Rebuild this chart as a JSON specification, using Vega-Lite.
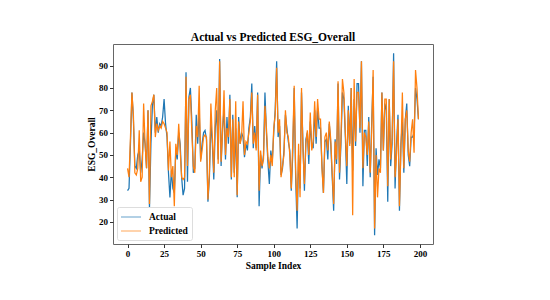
{
  "$schema": "https://vega.github.io/schema/vega-lite/v6.json",
  "width": 320,
  "height": 200,
  "autosize": {"type": "none"},
  "padding": {"left": 113, "top": 44, "right": 117, "bottom": 56},
  "background": "#ffffff",
  "title": {
    "text": "Actual vs Predicted ESG_Overall",
    "font": "Liberation Serif",
    "fontSize": 11.5,
    "fontWeight": "bold",
    "color": "#000000",
    "anchor": "middle",
    "offset": 1
  },
  "data": {
    "values": [
      {"i":0,"Actual":34,"Predicted":44},{"i":1,"Actual":35,"Predicted":40},{"i":2,"Actual":55,"Predicted":58},{"i":3,"Actual":78,"Predicted":78},{"i":4,"Actual":66,"Predicted":68},
      {"i":5,"Actual":45,"Predicted":42},{"i":6,"Actual":44,"Predicted":41},{"i":7,"Actual":50,"Predicted":44},{"i":8,"Actual":52,"Predicted":61},{"i":9,"Actual":42,"Predicted":38},
      {"i":10,"Actual":48,"Predicted":40},{"i":11,"Actual":60,"Predicted":73},{"i":12,"Actual":55,"Predicted":55},{"i":13,"Actual":44,"Predicted":44},{"i":14,"Actual":70,"Predicted":70},
      {"i":15,"Actual":26,"Predicted":28},{"i":16,"Actual":55,"Predicted":72},{"i":17,"Actual":72,"Predicted":74},{"i":18,"Actual":77,"Predicted":77},{"i":19,"Actual":60,"Predicted":58},
      {"i":20,"Actual":67,"Predicted":64},{"i":21,"Actual":60,"Predicted":61},{"i":22,"Actual":64,"Predicted":63},{"i":23,"Actual":63,"Predicted":62},{"i":24,"Actual":67,"Predicted":65},
      {"i":25,"Actual":75,"Predicted":64},{"i":26,"Actual":64,"Predicted":62},{"i":27,"Actual":58,"Predicted":60},{"i":28,"Actual":42,"Predicted":43},{"i":29,"Actual":31,"Predicted":56},
      {"i":30,"Actual":43,"Predicted":40},{"i":31,"Actual":35,"Predicted":45},{"i":32,"Actual":33,"Predicted":27},{"i":33,"Actual":52,"Predicted":55},{"i":34,"Actual":48,"Predicted":50},
      {"i":35,"Actual":60,"Predicted":64},{"i":36,"Actual":55,"Predicted":52},{"i":37,"Actual":40,"Predicted":40},{"i":38,"Actual":32,"Predicted":39},{"i":39,"Actual":35,"Predicted":40},
      {"i":40,"Actual":87,"Predicted":85},{"i":41,"Actual":38,"Predicted":45},{"i":42,"Actual":76,"Predicted":75},{"i":43,"Actual":80,"Predicted":77},{"i":44,"Actual":65,"Predicted":60},
      {"i":45,"Actual":42,"Predicted":45},{"i":46,"Actual":44,"Predicted":42},{"i":47,"Actual":68,"Predicted":63},{"i":48,"Actual":55,"Predicted":58},{"i":49,"Actual":70,"Predicted":81},
      {"i":50,"Actual":48,"Predicted":47},{"i":51,"Actual":55,"Predicted":52},{"i":52,"Actual":60,"Predicted":58},{"i":53,"Actual":61,"Predicted":59},{"i":54,"Actual":57,"Predicted":58},
      {"i":55,"Actual":29,"Predicted":30},{"i":56,"Actual":40,"Predicted":42},{"i":57,"Actual":65,"Predicted":73},{"i":58,"Actual":55,"Predicted":58},{"i":59,"Actual":39,"Predicted":42},
      {"i":60,"Actual":62,"Predicted":70},{"i":61,"Actual":70,"Predicted":80},{"i":62,"Actual":48,"Predicted":46},{"i":63,"Actual":93,"Predicted":92},{"i":64,"Actual":45,"Predicted":47},
      {"i":65,"Actual":62,"Predicted":60},{"i":66,"Actual":70,"Predicted":79},{"i":67,"Actual":48,"Predicted":50},{"i":68,"Actual":67,"Predicted":62},{"i":69,"Actual":55,"Predicted":58},
      {"i":70,"Actual":77,"Predicted":75},{"i":71,"Actual":39,"Predicted":40},{"i":72,"Actual":68,"Predicted":66},{"i":73,"Actual":42,"Predicted":40},{"i":74,"Actual":62,"Predicted":74},
      {"i":75,"Actual":31,"Predicted":32},{"i":76,"Actual":67,"Predicted":65},{"i":77,"Actual":55,"Predicted":55},{"i":78,"Actual":60,"Predicted":58},{"i":79,"Actual":58,"Predicted":74},
      {"i":80,"Actual":49,"Predicted":50},{"i":81,"Actual":55,"Predicted":56},{"i":82,"Actual":52,"Predicted":55},{"i":83,"Actual":62,"Predicted":60},{"i":84,"Actual":67,"Predicted":65},
      {"i":85,"Actual":82,"Predicted":78},{"i":86,"Actual":53,"Predicted":55},{"i":87,"Actual":63,"Predicted":60},{"i":88,"Actual":53,"Predicted":52},{"i":89,"Actual":78,"Predicted":77},
      {"i":90,"Actual":27,"Predicted":34},{"i":91,"Actual":50,"Predicted":52},{"i":92,"Actual":44,"Predicted":45},{"i":93,"Actual":50,"Predicted":48},{"i":94,"Actual":78,"Predicted":72},
      {"i":95,"Actual":60,"Predicted":62},{"i":96,"Actual":47,"Predicted":49},{"i":97,"Actual":37,"Predicted":44},{"i":98,"Actual":52,"Predicted":50},{"i":99,"Actual":47,"Predicted":45},
      {"i":100,"Actual":60,"Predicted":62},{"i":101,"Actual":70,"Predicted":68},{"i":102,"Actual":92,"Predicted":89},{"i":103,"Actual":58,"Predicted":60},{"i":104,"Actual":63,"Predicted":66},
      {"i":105,"Actual":41,"Predicted":40},{"i":106,"Actual":44,"Predicted":45},{"i":107,"Actual":52,"Predicted":50},{"i":108,"Actual":68,"Predicted":70},{"i":109,"Actual":62,"Predicted":60},
      {"i":110,"Actual":56,"Predicted":58},{"i":111,"Actual":52,"Predicted":50},{"i":112,"Actual":34,"Predicted":35},{"i":113,"Actual":50,"Predicted":55},{"i":114,"Actual":80,"Predicted":81},
      {"i":115,"Actual":40,"Predicted":43},{"i":116,"Actual":17,"Predicted":25},{"i":117,"Actual":50,"Predicted":55},{"i":118,"Actual":35,"Predicted":31},{"i":119,"Actual":78,"Predicted":80},
      {"i":120,"Actual":55,"Predicted":52},{"i":121,"Actual":34,"Predicted":37},{"i":122,"Actual":57,"Predicted":55},{"i":123,"Actual":60,"Predicted":61},{"i":124,"Actual":46,"Predicted":50},
      {"i":125,"Actual":65,"Predicted":69},{"i":126,"Actual":55,"Predicted":52},{"i":127,"Actual":53,"Predicted":56},{"i":128,"Actual":70,"Predicted":74},{"i":129,"Actual":55,"Predicted":58},
      {"i":130,"Actual":71,"Predicted":75},{"i":131,"Actual":62,"Predicted":66},{"i":132,"Actual":62,"Predicted":66},{"i":133,"Actual":45,"Predicted":44},{"i":134,"Actual":33,"Predicted":33},
      {"i":135,"Actual":56,"Predicted":58},{"i":136,"Actual":57,"Predicted":60},{"i":137,"Actual":48,"Predicted":52},{"i":138,"Actual":64,"Predicted":65},{"i":139,"Actual":55,"Predicted":57},
      {"i":140,"Actual":40,"Predicted":42},{"i":141,"Actual":25,"Predicted":28},{"i":142,"Actual":57,"Predicted":56},{"i":143,"Actual":46,"Predicted":48},{"i":144,"Actual":82,"Predicted":83},
      {"i":145,"Actual":39,"Predicted":42},{"i":146,"Actual":55,"Predicted":58},{"i":147,"Actual":78,"Predicted":84},{"i":148,"Actual":75,"Predicted":78},{"i":149,"Actual":58,"Predicted":60},
      {"i":150,"Actual":37,"Predicted":45},{"i":151,"Actual":72,"Predicted":70},{"i":152,"Actual":55,"Predicted":54},{"i":153,"Actual":80,"Predicted":80},{"i":154,"Actual":43,"Predicted":23},
      {"i":155,"Actual":75,"Predicted":84},{"i":156,"Actual":54,"Predicted":56},{"i":157,"Actual":82,"Predicted":78},{"i":158,"Actual":82,"Predicted":78},{"i":159,"Actual":60,"Predicted":62},
      {"i":160,"Actual":92,"Predicted":92},{"i":161,"Actual":36,"Predicted":44},{"i":162,"Actual":61,"Predicted":60},{"i":163,"Actual":61,"Predicted":58},{"i":164,"Actual":45,"Predicted":50},
      {"i":165,"Actual":67,"Predicted":65},{"i":166,"Actual":40,"Predicted":42},{"i":167,"Actual":64,"Predicted":60},{"i":168,"Actual":85,"Predicted":88},{"i":169,"Actual":14,"Predicted":17},
      {"i":170,"Actual":53,"Predicted":50},{"i":171,"Actual":41,"Predicted":31},{"i":172,"Actual":48,"Predicted":44},{"i":173,"Actual":44,"Predicted":42},{"i":174,"Actual":78,"Predicted":78},
      {"i":175,"Actual":52,"Predicted":52},{"i":176,"Actual":73,"Predicted":75},{"i":177,"Actual":70,"Predicted":75},{"i":178,"Actual":29,"Predicted":36},{"i":179,"Actual":75,"Predicted":75},
      {"i":180,"Actual":45,"Predicted":48},{"i":181,"Actual":55,"Predicted":58},{"i":182,"Actual":95.6,"Predicted":92},{"i":183,"Actual":35,"Predicted":40},{"i":184,"Actual":55,"Predicted":50},
      {"i":185,"Actual":68,"Predicted":66},{"i":186,"Actual":25,"Predicted":27},{"i":187,"Actual":55,"Predicted":52},{"i":188,"Actual":65,"Predicted":78},{"i":189,"Actual":42,"Predicted":44},
      {"i":190,"Actual":66,"Predicted":66},{"i":191,"Actual":73,"Predicted":70},{"i":192,"Actual":50,"Predicted":52},{"i":193,"Actual":45,"Predicted":47},{"i":194,"Actual":58,"Predicted":60},
      {"i":195,"Actual":58,"Predicted":66},{"i":196,"Actual":60,"Predicted":51},{"i":197,"Actual":80,"Predicted":88},{"i":198,"Actual":75,"Predicted":80},{"i":199,"Actual":66,"Predicted":66}
    ]
  },
  "transform": [
    {"fold": ["Actual", "Predicted"], "as": ["series", "value"]}
  ],
  "mark": {"type": "line", "strokeWidth": 1.25, "interpolate": "linear"},
  "encoding": {
    "x": {
      "field": "i",
      "type": "quantitative",
      "scale": {"domain": [-9.95, 208.95], "nice": false, "zero": false},
      "axis": {"title": "Sample Index", "values": [0, 25, 50, 75, 100, 125, 150, 175, 200], "format": "d"}
    },
    "y": {
      "field": "value",
      "type": "quantitative",
      "scale": {"domain": [10.1, 99.7], "nice": false, "zero": false},
      "axis": {"title": "ESG_Overall", "values": [20, 30, 40, 50, 60, 70, 80, 90], "format": "d"}
    },
    "color": {
      "field": "series",
      "type": "nominal",
      "scale": {"domain": ["Actual", "Predicted"], "range": ["#1f77b4", "#ff7f0e"]},
      "legend": {
        "title": null,
        "orient": "bottom-left",
        "offset": 4,
        "symbolType": "M-1.2,0H2.8",
        "symbolSize": 100,
        "symbolStrokeWidth": 1.5,
        "symbolOpacity": 0.45,
        "labelFont": "Liberation Serif",
        "labelFontSize": 9.5,
        "labelFontWeight": "bold",
        "labelColor": "#000000",
        "labelOffset": 16,
        "rowPadding": 3,
        "padding": 4,
        "fillColor": "#ffffff",
        "strokeColor": "#dddddd",
        "cornerRadius": 2
      }
    }
  },
  "config": {
    "view": {"stroke": "#666666", "strokeWidth": 1},
    "axis": {
      "grid": false,
      "domain": false,
      "tickColor": "#333333",
      "tickSize": 3.5,
      "labelFont": "Liberation Serif",
      "labelFontSize": 9,
      "labelFontWeight": "bold",
      "labelColor": "#000000",
      "labelPadding": 2,
      "titleFont": "Liberation Serif",
      "titleFontSize": 9.5,
      "titleFontWeight": "bold",
      "titleColor": "#000000",
      "titlePadding": 2
    }
  }
}
